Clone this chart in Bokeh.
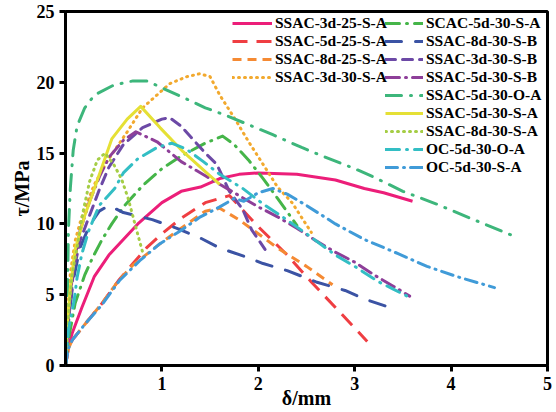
from bokeh.plotting import figure
from bokeh.models import Legend, LegendItem, FixedTicker, Range1d
from bokeh.embed import file_html
from bokeh.resources import INLINE

# ---- data (delta / mm, tau / MPa) ----
names = ["SSAC-3d-25-S-A", "SSAC-5d-25-S-A", "SSAC-8d-25-S-A", "SSAC-3d-30-S-A",
         "SCAC-5d-30-S-A", "SSAC-8d-30-S-B", "SSAC-3d-30-S-B", "SSAC-5d-30-S-B",
         "SSAC-5d-30-O-A", "SSAC-5d-30-S-A", "SSAC-8d-30-S-A", "OC-5d-30-O-A", "OC-5d-30-S-A"]

x_3d25SA = [0, 0.03, 0.07, 0.17, 0.3, 0.45, 0.6, 0.75, 1.0, 1.2, 1.4, 1.6, 1.8, 2.0, 2.4, 2.8, 3.1, 3.3, 3.6]
y_3d25SA = [0, 1.3, 2.3, 4.1, 6.3, 7.8, 8.9, 10.0, 11.5, 12.3, 12.6, 13.2, 13.5, 13.6, 13.5, 13.1, 12.5, 12.2, 11.6]

x_5d25SA = [0, 0.03, 0.07, 0.2, 0.38, 0.55, 0.7, 0.84, 1.0, 1.2, 1.45, 1.7, 2.0, 2.3, 2.55, 2.8, 3.13]
y_5d25SA = [0, 1.2, 1.8, 2.9, 4.4, 6.0, 7.2, 8.3, 9.3, 10.4, 11.5, 12.0, 9.8, 7.8, 5.9, 4.1, 1.7]

x_8d25SA = [0, 0.03, 0.07, 0.2, 0.38, 0.55, 0.7, 0.85, 1.0, 1.2, 1.45, 1.6, 1.8, 2.0, 2.2, 2.5, 2.77]
y_8d25SA = [0, 1.2, 1.8, 2.9, 4.4, 6.0, 7.1, 7.9, 8.7, 9.7, 10.9, 11.1, 10.3, 9.3, 8.3, 7.0, 5.7]

x_3d30SA = [0, 0.02, 0.05, 0.1, 0.16, 0.22, 0.3, 0.43, 0.64, 0.8, 1.08, 1.26, 1.39, 1.5, 1.6, 1.75, 1.9, 2.05, 2.2, 2.35, 2.55]
y_3d30SA = [0, 3.5, 6.5, 8.8, 10.3, 11.4, 12.8, 14.4, 16.5, 18.2, 19.9, 20.4, 20.6, 20.4, 19.1, 17.5, 15.8, 14.2, 12.6, 11.5, 9.4]

x_SC5d30SA = [0, 0.03, 0.1, 0.2, 0.28, 0.38, 0.48, 0.6, 0.8, 1.0, 1.2, 1.45, 1.63, 1.75, 1.9, 2.05, 2.2, 2.4]
y_SC5d30SA = [0, 1.8, 4.4, 6.4, 7.6, 8.9, 10.0, 11.2, 12.7, 13.9, 14.8, 15.7, 16.2, 15.6, 14.5, 13.2, 11.8, 9.9]

x_8d30SB = [0, 0.03, 0.08, 0.15, 0.25, 0.35, 0.45, 0.6, 0.9, 1.15, 1.4, 1.6, 1.9, 2.05, 2.3, 2.6, 2.9, 3.1, 3.45]
y_8d30SB = [0, 3.0, 6.0, 8.3, 9.9, 10.9, 11.3, 10.8, 10.3, 9.7, 9.0, 8.3, 7.6, 7.2, 6.7, 5.9, 5.3, 4.7, 3.9]

x_3d30SB = [0, 0.03, 0.08, 0.15, 0.25, 0.35, 0.45, 0.6, 0.8, 1.0, 1.08, 1.2, 1.45, 1.57, 1.7, 1.84, 1.93, 2.07]
y_3d30SB = [0, 3.0, 6.5, 8.8, 10.6, 12.4, 14.0, 15.6, 16.8, 17.4, 17.5, 16.9, 15.0, 14.2, 12.3, 11.0, 9.6, 8.2]

x_5d30SB = [0, 0.03, 0.08, 0.15, 0.25, 0.35, 0.45, 0.6, 0.73, 0.95, 1.2, 1.45, 1.7, 2.0, 2.2, 2.4, 2.6, 2.8, 3.0, 3.2, 3.4, 3.57]
y_5d30SB = [0, 3.5, 7.0, 9.5, 11.6, 13.3, 14.7, 15.9, 16.5, 15.8, 14.4, 13.4, 12.4, 11.2, 10.5, 9.7, 8.8, 8.0, 7.3, 6.4, 5.6, 4.9]

x_5d30OA = [0, 0.02, 0.03, 0.05, 0.08, 0.12, 0.2, 0.3, 0.5, 0.7, 0.85, 1.0, 1.2, 1.45, 1.65, 1.9, 2.15, 2.45, 2.7, 3.0, 3.2, 3.5, 3.85, 4.2, 4.63]
y_5d30OA = [0, 5.0, 9.5, 12.5, 15.2, 16.9, 18.2, 19.1, 19.8, 20.1, 20.1, 19.6, 19.0, 18.2, 17.7, 17.0, 16.3, 15.4, 14.7, 13.9, 13.3, 12.3, 11.4, 10.4, 9.2]

x_5d30SA = [0, 0.02, 0.05, 0.1, 0.2, 0.3, 0.48, 0.64, 0.78, 0.98, 1.22, 1.45, 1.6]
y_5d30SA = [0, 3.0, 5.5, 8.2, 10.6, 12.5, 16.0, 17.4, 18.3, 16.8, 15.1, 13.7, 12.8]

x_8d30SA = [0, 0.03, 0.07, 0.12, 0.18, 0.25, 0.33, 0.41, 0.5, 0.58, 0.65, 0.72, 0.8]
y_8d30SA = [0, 3.5, 6.5, 8.3, 10.8, 13.0, 14.5, 15.0, 14.2, 13.2, 11.8, 10.0, 8.0]

x_OC5d30OA = [0, 0.03, 0.09, 0.12, 0.17, 0.24, 0.35, 0.51, 0.6, 0.75, 0.95, 1.1, 1.25, 1.43, 1.6, 1.84, 2.05, 2.25, 2.5, 2.8, 3.0, 3.25, 3.4, 3.6]
y_OC5d30OA = [0, 2.5, 4.6, 6.2, 7.9, 9.5, 11.3, 12.5, 13.6, 14.6, 15.4, 15.7, 15.3, 14.4, 13.5, 12.5, 11.4, 10.5, 9.3, 7.8, 7.0, 5.9, 5.4, 4.7]

x_OC5d30SA = [0, 0.03, 0.07, 0.2, 0.38, 0.56, 0.77, 0.98, 1.19, 1.4, 1.6, 1.75, 1.85, 2.0, 2.15, 2.3, 2.5, 2.8, 3.1, 3.45, 3.75, 4.05, 4.45]
y_OC5d30SA = [0, 1.2, 1.8, 2.9, 4.3, 6.0, 7.4, 8.6, 9.5, 10.5, 11.2, 11.8, 11.6, 12.2, 12.5, 12.1, 11.3, 10.0, 8.9, 7.9, 7.0, 6.3, 5.5]

x_ticks = [1, 2, 3, 4, 5]
y_ticks = [0, 5, 10, 15, 20, 25]

series = [
    (x_3d25SA, y_3d25SA, "#EC1E79", "solid", "butt"),
    (x_5d25SA, y_5d25SA, "#EF3E42", "15 9", "butt"),
    (x_8d25SA, y_8d25SA, "#F58A33", "9 6", "butt"),
    (x_3d30SA, y_3d30SA, "#F2A92E", "1 5", "round"),
    (x_SC5d30SA, y_SC5d30SA, "#45B549", "14 7 1 7", "round"),
    (x_8d30SB, y_8d30SB, "#3B53A4", "16 14", "round"),
    (x_3d30SB, y_3d30SB, "#6C49A6", "10 7", "round"),
    (x_5d30SB, y_5d30SB, "#8E3F99", "14 6 1 6", "round"),
    (x_5d30OA, y_5d30OA, "#3DB67B", "16 9 1 9", "round"),
    (x_5d30SA, y_5d30SA, "#E5E035", "solid", "butt"),
    (x_8d30SA, y_8d30SA, "#A5CD45", "1 5", "round"),
    (x_OC5d30OA, y_OC5d30OA, "#33BEC4", "14 7 1 7", "round"),
    (x_OC5d30SA, y_OC5d30SA, "#409BD8", "12 6 1 6", "round"),
]

FONT = "Liberation Serif"

p = figure(width=556, height=412, output_backend="svg", toolbar_location=None,
           x_range=Range1d(0, 5), y_range=Range1d(0, 25),
           min_border_left=65, min_border_right=9, min_border_top=11, min_border_bottom=47)

p.xgrid.visible = False
p.ygrid.visible = False
p.outline_line_color = "black"
p.outline_line_width = 3
p.outline_line_alpha = 1
p.background_fill_color = "white"
p.border_fill_color = "white"

for ax in (p.xaxis[0], p.yaxis[0]):
    ax.axis_line_width = 3
    ax.axis_line_color = "black"
    ax.major_tick_line_width = 3
    ax.major_tick_line_color = "black"
    ax.major_tick_out = 6
    ax.major_tick_in = 0
    ax.minor_tick_line_color = None
    ax.major_label_text_font = FONT
    ax.major_label_text_font_style = "bold"
    ax.major_label_text_font_size = "18px"
    ax.major_label_text_color = "black"
    ax.major_label_standoff = 5
    ax.axis_label_text_font = FONT
    ax.axis_label_text_font_style = "bold"
    ax.axis_label_text_font_size = "20px"
    ax.axis_label_text_color = "black"

p.xaxis[0].ticker = FixedTicker(ticks=x_ticks)
p.yaxis[0].ticker = FixedTicker(ticks=y_ticks)
p.xaxis[0].axis_label = "δ/mm"
p.xaxis[0].axis_label_standoff = -6
p.yaxis[0].axis_label = "τ/MPa"
p.yaxis[0].axis_label_standoff = 1

renderers = []
for xs, ys, col, dash, cap in series:
    r = p.line(xs, ys, line_color=col, line_width=3, line_dash=dash, line_cap=cap, line_join="round")
    renderers.append(r)

def make_legend(idx, loc, gw):
    items = [LegendItem(label=names[i], renderers=[renderers[i]]) for i in idx]
    lg = Legend(items=items, location=loc, glyph_width=gw, glyph_height=18, label_height=18,
                spacing=0, padding=2, margin=0, label_standoff=3,
                label_text_font=FONT, label_text_font_style="bold", label_text_font_size="15.5px",
                label_text_color="black", border_line_alpha=0, background_fill_alpha=0)
    return lg

p.add_layout(make_legend([0, 1, 2, 3], (165, 277), 40), "center")
p.add_layout(make_legend(list(range(4, 13)), (318, 187), 38), "center")

open("out.html", "w").write(file_html(p, INLINE))
